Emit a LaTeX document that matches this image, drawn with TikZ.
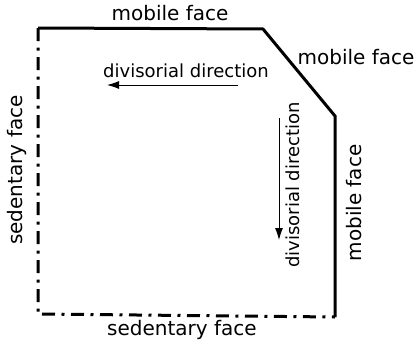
\documentclass[tikz,border=0pt]{standalone}
\usepackage{fontspec}
\setmainfont{DejaVu Sans}
\usetikzlibrary{arrows.meta}

\begin{document}
\begin{tikzpicture}[x=0.5pt, y=-0.5pt,
  mobile/.style={line width=1.5pt, line join=miter},
  sedentary/.style={line width=1.5pt, dash pattern=on 6.5pt off 3.25pt on 1.5pt off 3.25pt},
  facelabel/.style={font=\fontsize{10}{12}\selectfont},
  dirlabel/.style={font=\fontsize{9}{11}\selectfont},
  dirarrow/.style={line width=0.5pt, -{Latex[length=6pt, width=4pt]}}]

  \useasboundingbox (0,0) rectangle (418,348);

  % Corners of the cone
  \coordinate (tl) at (38,28);
  \coordinate (tr) at (263,29);
  \coordinate (rt) at (335,116);
  \coordinate (br) at (335,317);
  \coordinate (bl) at (38,314);

  % Mobile faces (solid)
  \draw[mobile] (tl) -- (tr) -- (rt) -- (br);

  % Sedentary faces (dash-dot)
  \draw[sedentary] (tl) -- (bl) -- (br);

  % Face labels
  \node[facelabel] (mtop) at (170,13) {mobile face};
  \node[facelabel] (mdiag) at (356,57) {mobile face};
  \node[facelabel, rotate=90] (mright) at (354,203) {mobile face};
  \node[facelabel, rotate=90] (sleft) at (17,170) {sedentary face};
  \node[facelabel] (sbottom) at (182,330) {sedentary face};

  % Divisorial directions
  \node[dirlabel] (dh) at (186,71) {divisorial direction};
  \coordinate (dhs) at (238,85);
  \coordinate (dhe) at (107,85);
  \draw[dirarrow] (dhs) -- (dhe);

  \node[dirlabel, rotate=90] (dv) at (293,185) {divisorial direction};
  \coordinate (dvs) at (279,118);
  \coordinate (dve) at (279,240);
  \draw[dirarrow] (dvs) -- (dve);

\end{tikzpicture}
\end{document}
